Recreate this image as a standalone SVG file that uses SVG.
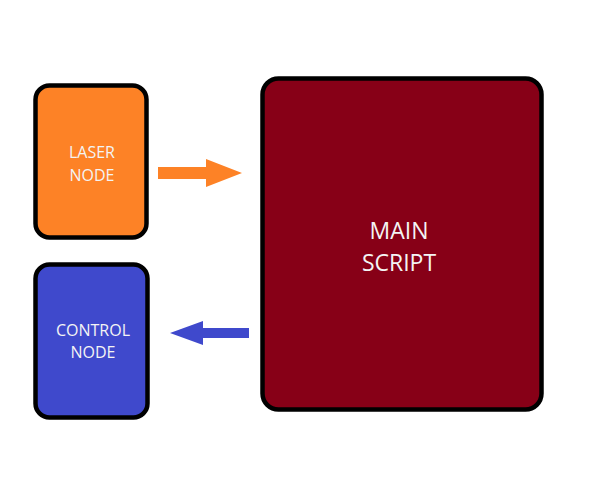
<svg xmlns="http://www.w3.org/2000/svg" width="592" height="497" viewBox="0 0 592 497">
<style>
.node{stroke:#000;stroke-width:4.5}
.lbl{font-family:"Open Sans","Noto Sans",sans-serif;fill:#f4f4f4;text-anchor:middle}
.s{font-size:16px}
.b{font-size:23px}
</style>
<rect width="592" height="497" fill="#fff"/>
<g id="laser-node">
<rect class="node" x="35.5" y="85.5" width="111" height="152" rx="14" fill="#fd8226"/>
<text class="lbl s" x="92" y="158">LASER</text>
<text class="lbl s" x="92" y="181">NODE</text>
</g>
<g id="control-node">
<rect class="node" x="35.5" y="264.5" width="112" height="153" rx="14" fill="#3f49cc"/>
<text class="lbl s" x="93" y="336">CONTROL</text>
<text class="lbl s" x="93" y="358">NODE</text>
</g>
<g id="main-script">
<rect class="node" x="262.5" y="78.5" width="279" height="331" rx="16" fill="#870017"/>
<text class="lbl b" x="399" y="239">MAIN</text>
<text class="lbl b" x="399" y="271">SCRIPT</text>
</g>
<g id="connectors">
<polygon fill="#fd8226" points="158,167 206,167 206,159 242,173 206,187 206,179 158,179"/>
<polygon fill="#3f49cc" points="249,328 203,328 203,321 170,333 203,345 203,338 249,338"/>
</g>
</svg>
